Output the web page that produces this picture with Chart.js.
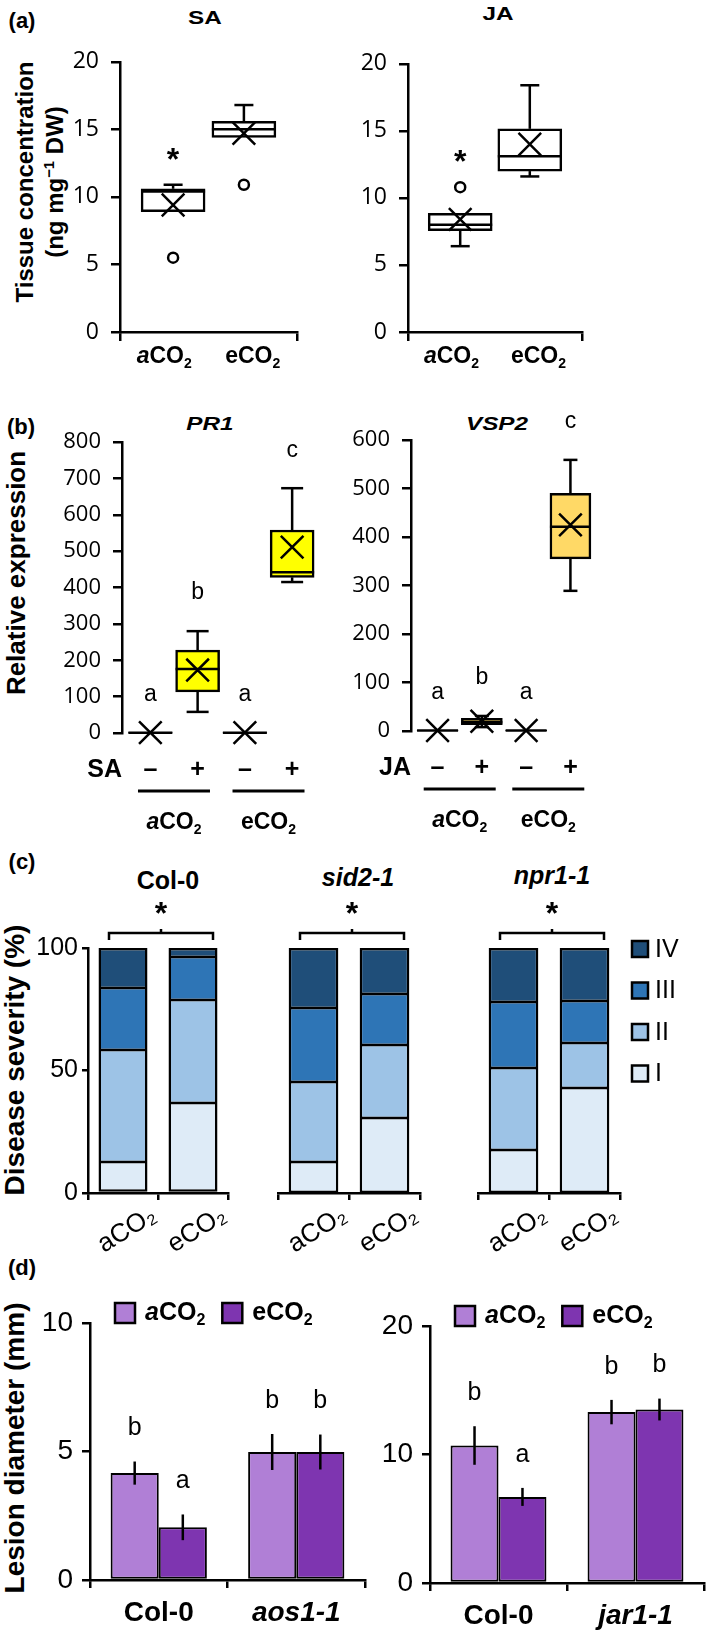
<!DOCTYPE html>
<html>
<head>
<meta charset="utf-8">
<title>Defence hormones and disease under elevated CO2</title>
<script src="https://cdn.jsdelivr.net/npm/chart.js@4.4.1/dist/chart.umd.min.js"></script>
<style>
  body { margin: 0; width: 709px; height: 1632px; position: relative; overflow: hidden; background: #fff; font-family: 'Liberation Sans', Arial, sans-serif; color: #000; }
  canvas { position: absolute; }
  .t { position: absolute; font-weight: bold; white-space: nowrap; transform: translate(-50%, -50%); line-height: 1; }
  .w { transform: translate(-50%, -50%) scaleX(1.35); }
  .r { transform: translate(-50%, -50%) rotate(-90deg); text-align: center; }
  .i { font-style: italic; }
  sup { font-size: 62%; vertical-align: 0.6em; line-height: 0; }
</style>
</head>
<body>
<div class="t" style="left:22px;top:21px;font-size:22px">(a)</div>
<div class="t w" style="left:205px;top:18px;font-size:18px">SA</div>
<div class="t w" style="left:498px;top:14px;font-size:18px">JA</div>
<div class="t r" style="left:40px;top:182px;font-size:24px;line-height:30px">Tissue concentration<br>(ng mg<sup>−1</sup> DW)</div>

<div class="t" style="left:21px;top:427px;font-size:22px">(b)</div>
<div class="t w i" style="left:210px;top:424px;font-size:18px">PR1</div>
<div class="t w i" style="left:497px;top:424px;font-size:18px">VSP2</div>
<div class="t r" style="left:16px;top:573px;font-size:26px">Relative expression</div>

<div class="t" style="left:22px;top:862px;font-size:22px">(c)</div>
<div class="t" style="left:168px;top:880px;font-size:25px">Col-0</div>
<div class="t i" style="left:358px;top:877px;font-size:25px">sid2-1</div>
<div class="t i" style="left:552px;top:875px;font-size:25px">npr1-1</div>
<div class="t r" style="left:15px;top:1060px;font-size:28px">Disease severity (%)</div>

<div class="t" style="left:22px;top:1268px;font-size:22px">(d)</div>
<div class="t r" style="left:15px;top:1448px;font-size:28px">Lesion diameter (mm)</div>

<script>
// ---------- data ----------
const CO2 = ['aCO2', 'eCO2'];

// (a) hormone content (ng/mg DW), box plots for aCO2 / eCO2
const SA_LOW  = [8.9, 14.4];
const SA_Q1   = [8.9, 14.4];
const SA_MED  = [10.4, 15.0];
const SA_Q3   = [10.6, 15.6];
const SA_HIGH = [10.9, 16.8];
const SA_MEAN = [9.4, 14.7];
const SA_OUT  = [[5.5], [10.9]];
const SA_SIG  = ['*', ''];

const JA_LOW  = [6.4, 11.6];
const JA_Q1   = [7.55, 12.0];
const JA_MED  = [8.0, 13.1];
const JA_Q3   = [8.85, 15.15];
const JA_HIGH = [8.85, 18.4];
const JA_MEAN = [8.4, 14.0];
const JA_OUT  = [[10.8], []];
const JA_SIG  = ['*', ''];

// (b) relative expression: aCO2 -, aCO2 +, eCO2 -, eCO2 +
const TREAT = ['–', '+', '–', '+'];
const PR1_LOW  = [0.5, 58, 0.5, 415];
const PR1_Q1   = [0.8, 113, 0.8, 428];
const PR1_MED  = [1, 176, 1, 442];
const PR1_Q3   = [1.2, 228, 1.2, 558];
const PR1_HIGH = [1.5, 280, 1.5, 673];
const PR1_MEAN = [1, 173, 1, 511];
const PR1_SIG  = ['a', 'b', 'a', 'c'];

const VSP2_LOW  = [0.5, 8, 0.5, 289];
const VSP2_Q1   = [0.8, 13, 0.8, 355];
const VSP2_MED  = [1, 18, 1, 421];
const VSP2_Q3   = [1.2, 26, 1.2, 490];
const VSP2_HIGH = [1.5, 31, 1.5, 559];
const VSP2_MEAN = [1, 20, 1, 425];
const VSP2_SIG  = ['a', 'b', 'a', 'c'];

// (c) disease severity classes (%), aCO2 / eCO2
const SEVERITY = ['I', 'II', 'III', 'IV'];
const COL0_I = [12.7, 36.7], COL0_II = [45.7, 42.1], COL0_III = [25.3, 17.5], COL0_IV = [16.3, 3.7];
const SID2_I = [12.7, 30.6], SID2_II = [32.6, 29.8], SID2_III = [30.2, 20.8], SID2_IV = [24.5, 18.8];
const NPR1_I = [17.6, 42.9], NPR1_II = [33.4, 18.3], NPR1_III = [27.0, 17.2], NPR1_IV = [22.0, 21.6];

// (d) lesion diameter (mm), mean and SE
const LES_L_GROUPS = ['Col-0', 'aos1-1'];
const LES_L_A = [4.16, 4.98], LES_L_A_SE = [0.45, 0.7], LES_L_A_SIG = ['b', 'b'];
const LES_L_E = [2.05, 4.98], LES_L_E_SE = [0.5, 0.68], LES_L_E_SIG = ['a', 'b'];
const LES_R_GROUPS = ['Col-0', 'jar1-1'];
const LES_R_A = [10.7, 13.3], LES_R_A_SE = [1.5, 0.95], LES_R_A_SIG = ['b', 'b'];
const LES_R_E = [6.7, 13.5], LES_R_E_SE = [0.7, 0.85], LES_R_E_SIG = ['a', 'b'];

// ---------- styling ----------
const SANS = "'Liberation Sans', Arial, sans-serif";
const NUM = "'Open Sans', 'Liberation Sans', sans-serif";
const SEV_COLORS = ['#DEEBF7', '#9DC3E6', '#2E75B6', '#1F4E79'];

Chart.defaults.animation = false;
Chart.defaults.font.family = SANS;
Chart.defaults.color = '#000';
Chart.defaults.plugins.legend.display = false;
Chart.defaults.plugins.tooltip.enabled = false;

// draws "aCO2" with italic a (only for a) and subscript 2, returns width
function richCO2(ctx, label, x, y, size, align, bold) {
  const w = bold === false ? '' : 'bold ';
  const head = label.slice(0, -3);
  const parts = [
    [head, (head === 'a' && bold !== false ? 'italic ' : '') + w + size + 'px ' + SANS, 0],
    ['CO', w + size + 'px ' + SANS, 0],
    ['2', w + Math.round(size * 0.62) + 'px ' + SANS, size * 0.3]
  ];
  let total = 0;
  parts.forEach(p => { ctx.font = p[1]; p.push(ctx.measureText(p[0]).width); total += p[3]; });
  let cx = align === 'center' ? x - total / 2 : x;
  ctx.textAlign = 'left';
  ctx.textBaseline = 'middle';
  parts.forEach(p => { ctx.font = p[1]; ctx.fillText(p[0], cx, y + p[2]); cx += p[3]; });
  return total;
}

function seg(ctx, x1, y1, x2, y2) {
  ctx.beginPath(); ctx.moveTo(x1, y1); ctx.lineTo(x2, y2); ctx.stroke();
}

// canvas placed so that the plot area lands at plot = [x0, x1, y0, y1]
function frame(plot, pad, showX, showY) {
  const c = document.createElement('canvas');
  const w = plot[1] - plot[0] + pad[0] + pad[2];
  const h = plot[3] - plot[2] + pad[1] + pad[3];
  c.width = w; c.height = h;
  Object.assign(c.style, { left: (plot[0] - pad[0]) + 'px', top: (plot[2] - pad[1]) + 'px', width: w + 'px', height: h + 'px' });
  document.body.appendChild(c);
  return {
    canvas: c,
    layout: { padding: { left: showY ? 0 : pad[0], top: pad[1], right: pad[2], bottom: showX ? 0 : pad[3] } },
    fitY: s => { s.width = pad[0]; },
    fitX: s => { s.height = pad[3]; }
  };
}

function axisY(f, max, step, font, tickLen, tickPad, show) {
  const s = {
    display: show, min: 0, max: max,
    ticks: { stepSize: step, font: font, padding: tickPad, color: '#000' },
    grid: { drawOnChartArea: false, drawTicks: true, tickLength: tickLen, color: '#000', lineWidth: 2.5 },
    border: { display: true, color: '#000', width: 2.5 }
  };
  if (show) s.afterFit = f.fitY;
  return s;
}

// ---------- plugins ----------
const boxExtras = {
  id: 'boxExtras',
  afterDatasetsDraw(chart, args, o) {
    const ds = chart.data.datasets[0], bars = chart.getDatasetMeta(0).data;
    const ys = chart.scales.y, ctx = chart.ctx;
    const py = v => ys.getPixelForValue(v);
    ctx.save();
    ctx.strokeStyle = '#000'; ctx.fillStyle = '#000'; ctx.lineWidth = 2.5;
    bars.forEach((bar, i) => {
      const x = bar.x, hw = bar.width / 2, cap = o.cap / 2;
      const q1 = ds.data[i].y[0], q3 = ds.data[i].y[1];
      seg(ctx, x - hw, py(ds.median[i]), x + hw, py(ds.median[i]));
      if (py(q3) - py(ds.high[i]) > 2) {
        seg(ctx, x, py(q3), x, py(ds.high[i]));
        seg(ctx, x - cap, py(ds.high[i]), x + cap, py(ds.high[i]));
      }
      if (py(ds.low[i]) - py(q1) > 2) {
        seg(ctx, x, py(q1), x, py(ds.low[i]));
        seg(ctx, x - cap, py(ds.low[i]), x + cap, py(ds.low[i]));
      }
      if (ds.sig[i]) {
        const top = Math.max(ds.high[i], ...ds.out[i]);
        ctx.font = o.sigFont; ctx.textAlign = 'center'; ctx.textBaseline = 'middle';
        ctx.fillText(ds.sig[i], x, py(top) - o.sigGap);
      }
    });
    ctx.restore();
  }
};

const catLabels = {
  id: 'catLabels',
  afterDraw(chart, args, o) {
    if (!o.labels) return;
    const sx = chart.scales.x, a = chart.chartArea, ctx = chart.ctx, n = o.labels.length;
    ctx.save(); ctx.fillStyle = '#000';
    o.labels.forEach((lab, i) => {
      const v = sx.min + (i + 0.5) * (sx.max - sx.min) / n;
      richCO2(ctx, lab, sx.getPixelForValue(v), a.bottom + 25, 23, 'center');
    });
    ctx.restore();
  }
};

const treatRows = {
  id: 'treatRows',
  afterDraw(chart, args, o) {
    if (!o.signs) return;
    const ctx = chart.ctx, a = chart.chartArea, bars = chart.getDatasetMeta(0).data;
    ctx.save(); ctx.fillStyle = '#000'; ctx.strokeStyle = '#000';
    ctx.font = 'bold 25px ' + SANS; ctx.textBaseline = 'middle';
    ctx.textAlign = 'center';
    o.signs.forEach((s, i) => ctx.fillText(s, bars[i].x, a.bottom + 37));
    ctx.textAlign = 'right';
    ctx.fillText(o.name, a.left, a.bottom + 37);
    ctx.lineWidth = 3;
    o.groups.forEach((g, k) => {
      const cx = (bars[2 * k].x + bars[2 * k + 1].x) / 2;
      seg(ctx, cx - 36, a.bottom + 58, cx + 36, a.bottom + 58);
      richCO2(ctx, g, cx, a.bottom + 90, 23, 'center');
    });
    ctx.restore();
  }
};

const bracket = {
  id: 'bracket',
  afterDraw(chart, args, o) {
    const b = chart.getDatasetMeta(0).data, a = chart.chartArea, ctx = chart.ctx;
    const cx = (b[0].x + b[1].x) / 2 + 3, y = a.top - 15;
    ctx.save(); ctx.strokeStyle = '#000'; ctx.fillStyle = '#000'; ctx.lineWidth = 2.5;
    ctx.beginPath();
    ctx.moveTo(cx - 52, y + 7); ctx.lineTo(cx - 52, y); ctx.lineTo(cx + 52, y); ctx.lineTo(cx + 52, y + 7);
    ctx.moveTo(cx, y); ctx.lineTo(cx, y - 4);
    ctx.stroke();
    ctx.font = 'bold 32px ' + SANS; ctx.textAlign = 'center'; ctx.textBaseline = 'middle';
    ctx.fillText(o.mark, cx, a.top - 33);
    ctx.restore();
  }
};

const sevLegend = {
  id: 'sevLegend',
  afterDraw(chart, args, o) {
    if (!o.show) return;
    const a = chart.chartArea, ctx = chart.ctx;
    ctx.save(); ctx.lineWidth = 2.5; ctx.strokeStyle = '#000';
    ctx.font = '25px ' + SANS; ctx.textBaseline = 'middle'; ctx.textAlign = 'left';
    chart.data.datasets.slice().reverse().forEach((ds, j) => {
      const y = a.top + 1 + j * 41.5, x = a.right + 12;
      ctx.fillStyle = ds.backgroundColor; ctx.fillRect(x, y - 8, 16, 16); ctx.strokeRect(x, y - 8, 16, 16);
      ctx.fillStyle = '#000'; ctx.fillText(ds.label, x + 23, y + 1);
    });
    ctx.restore();
  }
};

const errBars = {
  id: 'errBars',
  afterDatasetsDraw(chart) {
    const ys = chart.scales.y, ctx = chart.ctx;
    ctx.save(); ctx.strokeStyle = '#000'; ctx.fillStyle = '#000'; ctx.lineWidth = 2.5;
    ctx.font = '25px ' + SANS; ctx.textAlign = 'center'; ctx.textBaseline = 'middle';
    chart.data.datasets.forEach((ds, d) => {
      chart.getDatasetMeta(d).data.forEach((bar, i) => {
        const v = ds.data[i], s = ds.se[i];
        seg(ctx, bar.x, ys.getPixelForValue(v - s), bar.x, ys.getPixelForValue(v + s));
        ctx.fillText(ds.sig[i], bar.x, ys.getPixelForValue(v + s) - 33);
      });
    });
    ctx.restore();
  }
};

const lesionLegend = {
  id: 'lesionLegend',
  afterDraw(chart) {
    const a = chart.chartArea, ctx = chart.ctx, y = a.top - 10;
    let x = a.left + 25;
    ctx.save(); ctx.lineWidth = 2.5; ctx.strokeStyle = '#000';
    chart.data.datasets.forEach(ds => {
      ctx.fillStyle = ds.backgroundColor; ctx.fillRect(x, y - 10, 20, 20); ctx.strokeRect(x, y - 10, 20, 20);
      ctx.fillStyle = '#000';
      const w = richCO2(ctx, ds.label, x + 30, y, 25, 'left');
      x += 30 + w + 17;
    });
    ctx.restore();
  }
};

// ---------- chart builders ----------
function boxChart(plot, pad, st, look) {
  const f = frame(plot, pad, look.xAxis, true);
  const pos = st.q1.map((v, i) => i + 1);
  const outliers = [];
  st.out.forEach((list, i) => list.forEach(v => outliers.push({ x: i + 1, y: v })));
  const xs = {
    type: 'linear', display: look.xAxis, min: look.xmin, max: look.xmax, offset: false,
    grid: { offset: false, drawOnChartArea: false, drawTicks: true, tickLength: 9, color: '#000', lineWidth: 2.5 },
    border: { display: true, color: '#000', width: 2.5 },
    ticks: { callback: () => '' },
    afterBuildTicks: sc => { sc.ticks = [{ value: sc.min }, { value: sc.max }]; }
  };
  if (look.xAxis) xs.afterFit = f.fitX;
  new Chart(f.canvas, {
    type: 'bar',
    data: {
      datasets: [
        { type: 'bar', order: 3, data: pos.map((x, i) => ({ x: x, y: [st.q1[i], st.q3[i]] })),
          backgroundColor: look.fill, borderColor: '#000', borderWidth: 2.5, borderSkipped: false,
          barThickness: look.boxW, low: st.low, high: st.high, median: st.med, sig: st.sig, out: st.out },
        { type: 'scatter', order: 1, clip: false, data: pos.map((x, i) => ({ x: x, y: st.mean[i] })),
          pointStyle: 'crossRot', pointRadius: 16, borderColor: '#000', borderWidth: 2.5 },
        { type: 'scatter', order: 2, clip: false, data: outliers, pointStyle: 'circle', pointRadius: 5,
          backgroundColor: '#fff', borderColor: '#000', borderWidth: 2.5 }
      ]
    },
    options: {
      responsive: false, layout: f.layout,
      scales: {
        x: xs,
        y: axisY(f, look.ymax, look.step, { family: NUM, size: look.tickSize }, 9, 12, true)
      },
      plugins: {
        boxExtras: { cap: look.cap, sigFont: look.sigFont, sigGap: look.sigGap },
        catLabels: { labels: look.xAxis ? CO2 : null },
        treatRows: look.treat || {}
      }
    },
    plugins: [boxExtras, catLabels, treatRows]
  });
}

function sevChart(plot, pad, levels, showY, withLegend) {
  const f = frame(plot, pad, true, showY);
  new Chart(f.canvas, {
    type: 'bar',
    data: {
      labels: CO2.map(c => c.replace('2', '₂')),
      datasets: levels.map((vals, k) => ({
        label: SEVERITY[k], data: vals, backgroundColor: SEV_COLORS[k], borderColor: '#000',
        borderWidth: { left: 2.5, right: 2.5, top: k === 3 ? 2.5 : 1.5, bottom: k === 0 ? 2.5 : 1.5 },
        borderSkipped: false, barPercentage: 0.7, categoryPercentage: 1
      }))
    },
    options: {
      responsive: false, layout: f.layout,
      scales: {
        x: {
          stacked: true, offset: true,
          grid: { offset: true, drawOnChartArea: false, drawTicks: true, tickLength: 7, color: '#000', lineWidth: 2.5 },
          border: { display: true, color: '#000', width: 2.5 },
          ticks: { font: { family: SANS, size: 26 }, minRotation: 32, maxRotation: 32, labelOffset: 31, padding: 0 },
          afterFit: f.fitX
        },
        y: Object.assign(axisY(f, 100, 50, { family: SANS, size: 25 }, 6, 4, showY), { stacked: true })
      },
      plugins: { bracket: { mark: '*' }, sevLegend: { show: withLegend } }
    },
    plugins: [bracket, sevLegend]
  });
}

function lesionChart(plot, pad, groups, a, aSe, aSig, e, eSe, eSig, max, step) {
  const f = frame(plot, pad, true, true);
  const set = (label, vals, se, sig, color) => ({
    label: label, data: vals, se: se, sig: sig, backgroundColor: color, borderColor: '#000',
    borderWidth: 2, borderSkipped: false, barPercentage: 1, categoryPercentage: 0.7
  });
  new Chart(f.canvas, {
    type: 'bar',
    data: { labels: groups, datasets: [set(CO2[0], a, aSe, aSig, '#B07FD6'), set(CO2[1], e, eSe, eSig, '#7E35B0')] },
    options: {
      responsive: false, layout: f.layout,
      scales: {
        x: {
          offset: true,
          grid: { offset: true, drawOnChartArea: false, drawTicks: true, tickLength: 8, color: '#000', lineWidth: 2.5 },
          border: { display: true, color: '#000', width: 2.5 },
          ticks: { padding: 8, font: c => ({ family: SANS, size: 28, weight: 'bold', style: c.index === 1 ? 'italic' : 'normal' }) },
          afterFit: f.fitX
        },
        y: axisY(f, max, step, { family: SANS, size: 28 }, 8, 9, true)
      }
    },
    plugins: [errBars, lesionLegend]
  });
}

// ---------- panels ----------
const lookA = { xAxis: true, xmin: 0.25, xmax: 2.75, ymax: 20, step: 5, tickSize: 23, fill: '#fff', boxW: 64, cap: 19,
  sigFont: 'bold 32px ' + SANS, sigGap: 24 };
boxChart([120, 297, 56, 332], [62, 20, 20, 46],
  { low: SA_LOW, q1: SA_Q1, med: SA_MED, q3: SA_Q3, high: SA_HIGH, mean: SA_MEAN, out: SA_OUT, sig: SA_SIG }, lookA);
boxChart([408, 582, 58, 332], [62, 20, 20, 46],
  { low: JA_LOW, q1: JA_Q1, med: JA_MED, q3: JA_Q3, high: JA_HIGH, mean: JA_MEAN, out: JA_OUT, sig: JA_SIG }, lookA);

const none = [[], [], [], []];
boxChart([122, 321, 442, 733], [70, 34, 18, 112],
  { low: PR1_LOW, q1: PR1_Q1, med: PR1_MED, q3: PR1_Q3, high: PR1_HIGH, mean: PR1_MEAN, out: none, sig: PR1_SIG },
  { xAxis: false, xmin: 0.4, xmax: 4.6, ymax: 800, step: 100, tickSize: 22, fill: '#FFFF00', boxW: 44, cap: 22,
    sigFont: '23px ' + SANS, sigGap: 38, treat: { name: 'SA', signs: TREAT, groups: CO2 } });
boxChart([411, 597, 440, 731], [70, 34, 40, 112],
  { low: VSP2_LOW, q1: VSP2_Q1, med: VSP2_MED, q3: VSP2_Q3, high: VSP2_HIGH, mean: VSP2_MEAN, out: none, sig: VSP2_SIG },
  { xAxis: false, xmin: 0.4, xmax: 4.6, ymax: 600, step: 100, tickSize: 22, fill: '#FFD966', boxW: 41, cap: 14,
    sigFont: '23px ' + SANS, sigGap: 38, treat: { name: 'JA', signs: TREAT, groups: CO2 } });

sevChart([88, 228, 948, 1193], [62, 72, 18, 66], [COL0_I, COL0_II, COL0_III, COL0_IV], true, false);
sevChart([278, 420, 948, 1193], [30, 72, 18, 66], [SID2_I, SID2_II, SID2_III, SID2_IV], false, false);
sevChart([478, 620, 948, 1193], [30, 72, 88, 66], [NPR1_I, NPR1_II, NPR1_III, NPR1_IV], false, true);

lesionChart([90, 365, 1323, 1580], [64, 40, 20, 52], LES_L_GROUPS,
  LES_L_A, LES_L_A_SE, LES_L_A_SIG, LES_L_E, LES_L_E_SE, LES_L_E_SIG, 10, 5);
lesionChart([430, 704, 1326, 1583], [64, 40, 5, 49], LES_R_GROUPS,
  LES_R_A, LES_R_A_SE, LES_R_A_SIG, LES_R_E, LES_R_E_SE, LES_R_E_SIG, 20, 10);
</script>
</body>
</html>
